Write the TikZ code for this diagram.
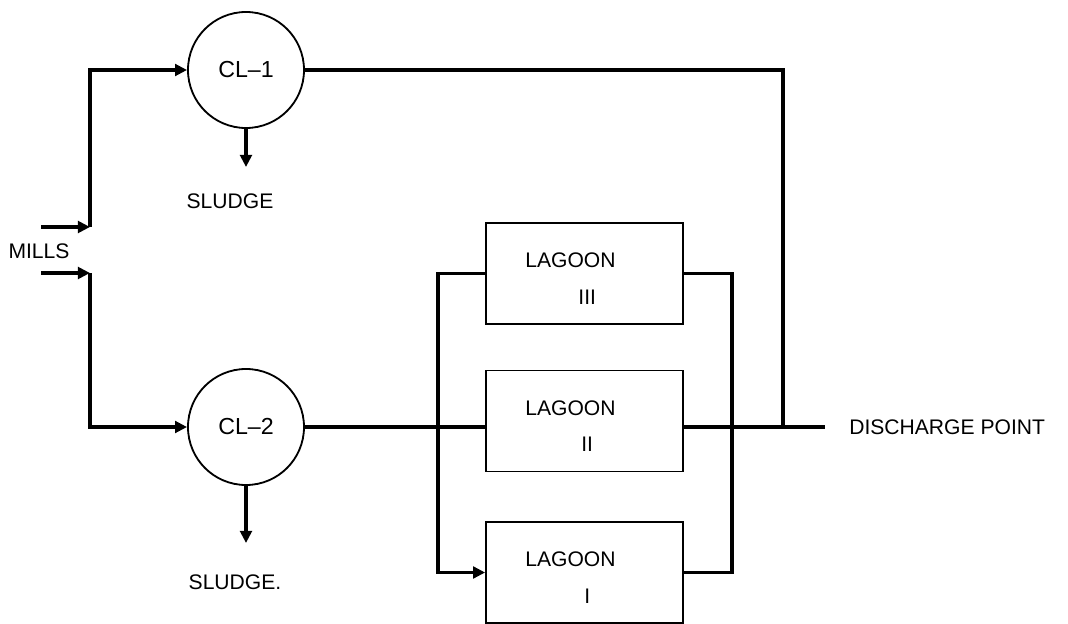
\documentclass[tikz,border=0pt]{standalone}
\usepackage{fontspec}
\setmainfont{Liberation Sans}
\usetikzlibrary{arrows.meta,positioning}
\newcommand{\lagoonlabel}[1]{\rule{0pt}{18pt}LAGOON\hspace*{20pt}\\[8pt]\hspace*{38pt}\makebox[12pt]{#1}}

\begin{document}
\begin{tikzpicture}[x=0.025cm,y=-0.025cm]
\tikzset{
  tank/.style={circle,draw=black,line width=1.3pt,minimum size=29mm,inner sep=0pt,font=\fontsize{16.5}{19}\selectfont},
  lagoon/.style={rectangle,draw=black,line width=1.2pt,minimum width=49.25mm,minimum height=25.25mm,inner sep=0pt,align=left,font=\fontsize{15}{18}\selectfont},
  tag/.style={inner sep=0pt,font=\fontsize{15}{18}\selectfont},
  pipe/.style={draw=black,line width=2.6pt,line cap=butt,line join=miter},
  flow/.style={pipe,-{Triangle[length=3mm,width=2.9mm]}}
}
\useasboundingbox (0,0) rectangle (1068,624);
\node[tank] (n_CL1) at (246,70) {CL--1};
\node[tank] (n_CL2) at (246,427) {CL--2};
\node[lagoon] (n_L3) at (584.5,273.5) {\lagoonlabel{III}};
\node[lagoon] (n_L2) at (584.5,421) {\lagoonlabel{II}};
\node[lagoon] (n_L1) at (584.5,572.5) {\lagoonlabel{I}};
\node[tag] (n_mills) at (39,251) {MILLS};
\node[tag] (n_sludge1) at (230,201) {SLUDGE};
\node[tag] (n_sludge2) at (235,582) {SLUDGE.};
\coordinate (c_M1) at (41,227);
\coordinate (c_J1) at (90,227);
\coordinate (c_M2) at (41,273);
\coordinate (c_J2) at (90,273);
\coordinate (c_S1) at (246,167);
\coordinate (c_S2) at (246,543);
\coordinate (c_FB) at (438,572.5);
\coordinate (c_RB) at (732,572.5);
\coordinate (c_JD) at (783,427);
\coordinate (c_DP) at (825,427);
\node[tag,right=6mm of c_DP] (n_discharge) {DISCHARGE POINT};
% inflow from the mills
\draw[flow] (c_M1) -- (c_J1);
\draw[flow] (c_J1) |- (n_CL1.west);
\draw[flow] (c_M2) -- (c_J2);
\draw[flow] (c_J2) |- (n_CL2.west);
% sludge
\draw[flow] (n_CL1.south) -- (c_S1);
\draw[flow] (n_CL2.south) -- (c_S2);
% lagoons
\draw[pipe] (n_CL2.east) -- (n_CL2.east -| n_L2.west);
\draw[flow] (n_L3.west) -| (c_FB) -- (n_L1.west);
\draw[pipe] (n_L3.east) -| (c_RB) -- (n_L1.east);
\draw[pipe] (c_JD -| n_L2.east) -- (c_DP);
\draw[pipe] (n_CL1.east) -| (c_JD);
\end{tikzpicture}
\end{document}
